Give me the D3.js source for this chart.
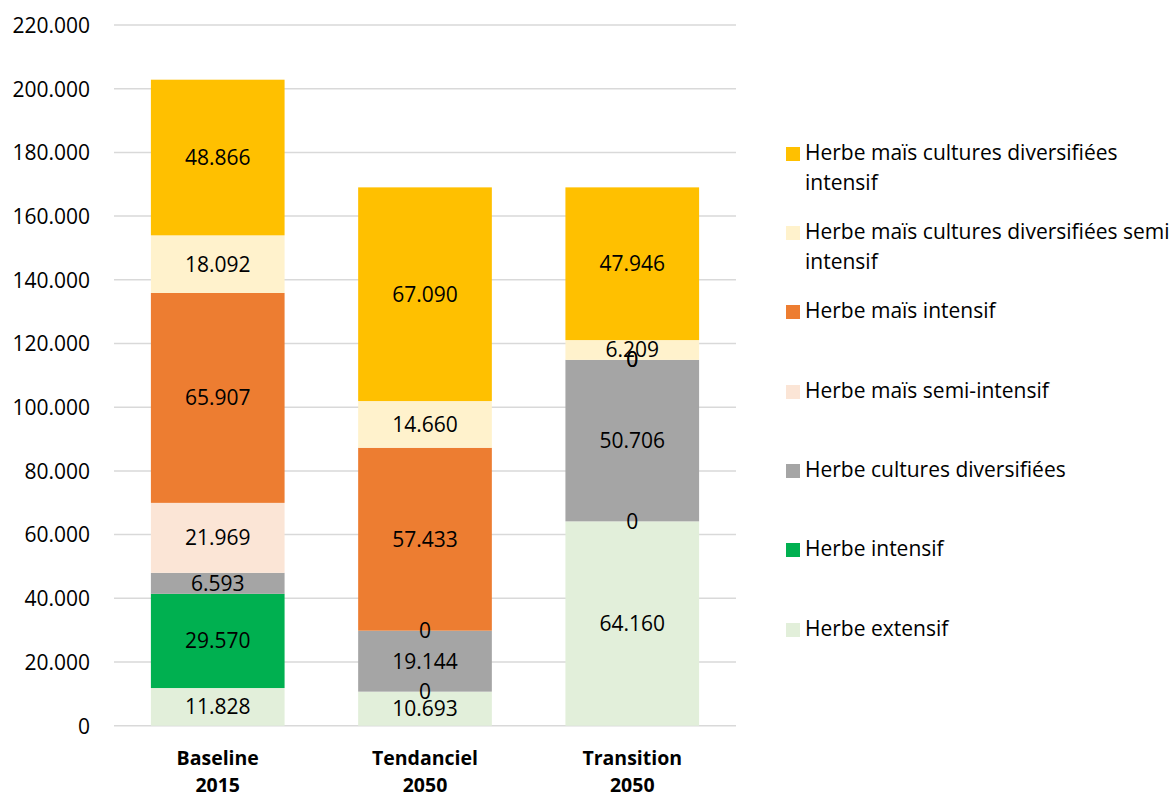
<!DOCTYPE html>
<html lang="fr">

<head>
    <meta charset="utf-8" />
    <script src="https://cdn.jsdelivr.net/npm/d3@7"></script>
    <style>
        body { margin: 0; background: #fff; }
        text { font-family: "Open Sans", sans-serif; fill: #000; }
    </style>
</head>

<body>
    <script>

        const w = 1170;
        const h = 796;

        // scenarios (x axis), two lines each
        const scenarios = ["Baseline 2015", "Tendanciel 2050", "Transition 2050"];
        const scenarioLines = [["Baseline", "2015"], ["Tendanciel", "2050"], ["Transition", "2050"]];

        // series, bottom of the stack first
        const series = [
            "Herbe extensif",
            "Herbe intensif",
            "Herbe cultures diversifiées",
            "Herbe maïs semi-intensif",
            "Herbe maïs intensif",
            "Herbe maïs cultures diversifiées semi intensif",
            "Herbe maïs cultures diversifiées intensif"
        ];
        const colors = ["#E2EFDA", "#00B050", "#A5A5A5", "#FBE5D6", "#ED7D31", "#FFF2CC", "#FFC000"];

        // one value per scenario, same order as scenarios
        const herbeExtensif = [11828, 10693, 64160];
        const herbeIntensif = [29570, 0, 0];
        const herbeCultDiv = [6593, 19144, 50706];
        const herbeMaisSemi = [21969, 0, 0];
        const herbeMaisIntensif = [65907, 57433, 0];
        const herbeMaisCultDivSemi = [18092, 14660, 6209];
        const herbeMaisCultDivIntensif = [48866, 67090, 47946];

        const yTicks = [0, 20000, 40000, 60000, 80000, 100000, 120000, 140000, 160000, 180000, 200000, 220000];

        const values = [herbeExtensif, herbeIntensif, herbeCultDiv, herbeMaisSemi,
            herbeMaisIntensif, herbeMaisCultDivSemi, herbeMaisCultDivIntensif];

        const table = scenarios.map((s, i) => {
            let row = { scenario: s };
            series.forEach((k, j) => row[k] = values[j][i]);
            return row;
        });

        const fmt = d3.formatLocale({ decimal: ",", thousands: ".", grouping: [3], currency: ["", ""] }).format(",.0f");

        const stack = d3.stack().keys(series)(table);

        const xScale = d3.scaleBand()
            .domain(scenarios)
            .range([114, 736])
            .paddingInner(0.355)
            .paddingOuter(0.178);

        const yScale = d3.scaleLinear()
            .domain([0, 220000])
            .range([725.7, 25]);

        const color = d3.scaleOrdinal().domain(series).range(colors);

        const svg = d3.select("body")
            .append("svg")
            .attr("width", w)
            .attr("height", h);

        // gridlines
        svg.append("g")
            .selectAll("line")
            .data(yTicks)
            .join("line")
            .attr("x1", 114)
            .attr("x2", 736)
            .attr("y1", d => yScale(d))
            .attr("y2", d => yScale(d))
            .attr("stroke", "#d9d9d9")
            .attr("stroke-width", 1.5);

        const yAxis = d3.axisLeft(yScale)
            .tickValues(yTicks)
            .tickFormat(fmt)
            .tickSize(0)
            .tickPadding(0);

        svg.append("g")
            .attr("transform", "translate(90,0)")
            .call(yAxis)
            .call(g => g.select(".domain").remove())
            .selectAll("text")
            .style("font-size", "21px")
            .style("font-family", "'Open Sans', sans-serif")
            .attr("dy", "0.35em");

        // bars
        const layers = svg.append("g")
            .selectAll("g")
            .data(stack)
            .join("g")
            .attr("fill", d => color(d.key));

        layers.selectAll("rect")
            .data(d => d)
            .join("rect")
            .attr("x", d => xScale(d.data.scenario))
            .attr("width", xScale.bandwidth())
            .attr("y", d => yScale(d[1]))
            .attr("height", d => yScale(d[0]) - yScale(d[1]));

        // value labels
        svg.append("g")
            .selectAll("g")
            .data(stack)
            .join("g")
            .selectAll("text")
            .data(d => d.map(p => ({ p: p, v: p[1] - p[0] })))
            .join("text")
            .attr("x", d => xScale(d.p.data.scenario) + xScale.bandwidth() / 2)
            .attr("y", d => yScale((d.p[0] + d.p[1]) / 2))
            .attr("dy", "0.35em")
            .attr("text-anchor", "middle")
            .style("font-size", "21px")
            .text(d => fmt(d.v));

        // category labels
        const cats = svg.append("g")
            .selectAll("text")
            .data(scenarios)
            .join("text")
            .attr("x", d => xScale(d) + xScale.bandwidth() / 2)
            .attr("y", 765)
            .attr("text-anchor", "middle")
            .style("font-size", "19.5px")
            .style("font-weight", "bold");

        cats.selectAll("tspan")
            .data((d, i) => scenarioLines[i])
            .join("tspan")
            .attr("x", function () { return this.parentNode.getAttribute("x"); })
            .attr("dy", (d, i) => i === 0 ? 0 : 27)
            .text(d => d);

        // legend, top item is the top of the stack; y is the first baseline
        const legendBase = [160, 239, 318, 398, 477, 556, 636];
        const legendData = series.slice().reverse();

        const legend = svg.append("g")
            .selectAll("g")
            .data(legendData)
            .join("g")
            .attr("transform", (d, i) => "translate(786," + legendBase[i] + ")");

        legend.append("rect")
            .attr("x", 0)
            .attr("y", -13)
            .attr("width", 14)
            .attr("height", 14)
            .attr("fill", d => color(d));

        legend.append("text")
            .attr("x", 19)
            .attr("y", 0)
            .style("font-size", "21px")
            .each(function (d) {
                // wrap long names
                const el = d3.select(this);
                const words = d.split(" ");
                let line = [];
                let tspan = el.append("tspan").attr("x", 19).attr("dy", 0);
                words.forEach(word => {
                    line.push(word);
                    tspan.text(line.join(" "));
                    if (tspan.node().getComputedTextLength() > 375 && line.length > 1) {
                        line.pop();
                        tspan.text(line.join(" "));
                        line = [word];
                        tspan = el.append("tspan").attr("x", 19).attr("dy", 30).text(word);
                    }
                });
            });

    </script>
</body>

</html>
